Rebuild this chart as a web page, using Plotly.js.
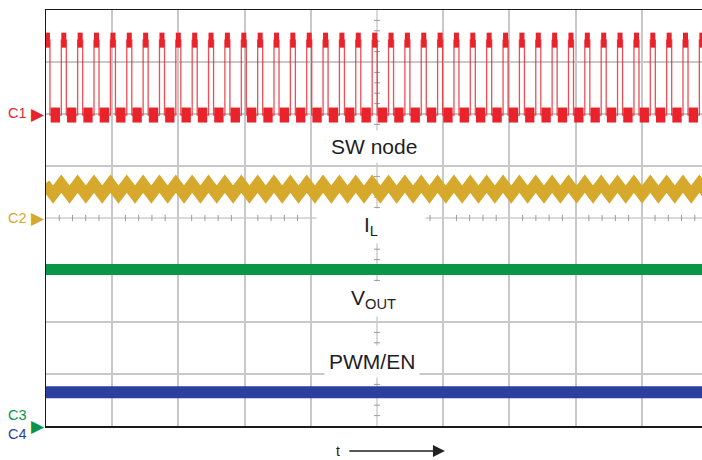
<!DOCTYPE html>
<html>
<head>
<meta charset="utf-8">
<script src="https://cdn.plot.ly/plotly-3.0.1.min.js"></script>
<style>
  html, body { margin: 0; padding: 0; background: #ffffff; }
  #chart { width: 702px; height: 460px; }
</style>
</head>
<body>
<div id="chart"></div>
<script>
// ---- values (x in divisions, y in divisions from bottom) ----
// SW node rising edges (divisions)
const swRise = [-0.016, 0.231, 0.478, 0.725, 0.973, 1.220, 1.467, 1.714, 1.961, 2.208,
                2.455, 2.702, 2.950, 3.197, 3.444, 3.691, 3.938, 4.185, 4.432, 4.679,
                4.927, 5.174, 5.421, 5.668, 5.915, 6.162, 6.409, 6.656, 6.904, 7.151,
                7.398, 7.645, 7.892, 8.139, 8.386, 8.633, 8.881, 9.128, 9.375, 9.622, 9.869];
// SW node falling edges (divisions)
const swFall = [0.060, 0.307, 0.554, 0.801, 1.049, 1.296, 1.543, 1.790, 2.037, 2.284,
                2.531, 2.778, 3.026, 3.273, 3.520, 3.767, 4.014, 4.261, 4.508, 4.755,
                5.003, 5.250, 5.497, 5.744, 5.991, 6.238, 6.485, 6.732, 6.980, 7.227,
                7.474, 7.721, 7.968, 8.215, 8.462, 8.709, 8.957, 9.204, 9.451, 9.698, 9.945];
const swHigh = 7.42;     // div
const swLow  = 5.98;     // div

// Inductor current: peak and valley instants (divisions) and levels
const ilPeakT   = [-0.016, 0.231, 0.478, 0.725, 0.973, 1.220, 1.467, 1.714, 1.961, 2.208,
                   2.455, 2.702, 2.950, 3.197, 3.444, 3.691, 3.938, 4.185, 4.432, 4.679,
                   4.927, 5.174, 5.421, 5.668, 5.915, 6.162, 6.409, 6.656, 6.904, 7.151,
                   7.398, 7.645, 7.892, 8.139, 8.386, 8.633, 8.881, 9.128, 9.375, 9.622, 9.869];
const ilValleyT = [0.107, 0.355, 0.602, 0.849, 1.096, 1.344, 1.591, 1.838, 2.085, 2.332,
                   2.579, 2.826, 3.073, 3.320, 3.568, 3.815, 4.062, 4.309, 4.556, 4.803,
                   5.050, 5.297, 5.545, 5.792, 6.039, 6.286, 6.533, 6.780, 7.027, 7.275,
                   7.522, 7.769, 8.016, 8.263, 8.510, 8.757, 9.004, 9.251, 9.498, 9.746, 9.993];
const ilPeak   = 4.66;
const ilValley = 4.45;

// VOUT and PWM/EN flat levels
const spanT     = [0, 9.95];
const voutLevel = [3.01, 3.01];
const pwmLevel  = [0.65, 0.65];

// labels
const traceLabels  = ['SW node', 'I<sub>L</sub>', 'V<sub>OUT</sub>', 'PWM/EN'];
const channelNames = ['C1', 'C2', 'C3', 'C4'];
const channelRef   = [6, 4, 0];          // reference-level markers (div)

// ---- build traces ----
const RED = '#e8232b', GOLD = '#d6a82b', GREEN = '#0b9548', BLUE = '#2c3f9f';
const FONT = '"Liberation Sans", Arial, Helvetica, sans-serif';

// thin SW square wave
const swX = [], swY = [];
for (let i = 0; i < swRise.length; i++) {
  swX.push(swRise[i], swRise[i], swFall[i], swFall[i]);
  swY.push(swLow, swHigh, swHigh, swLow);
}
// thick plateaus
const hiX = [], hiY = [], loX = [], loY = [];
for (let i = 0; i < swRise.length; i++) {
  hiX.push(swRise[i], swFall[i], null);
  hiY.push(swHigh, swHigh, null);
  const nextRise = i + 1 < swRise.length ? swRise[i + 1] : 10.2;
  loX.push(swFall[i] + 0.01, nextRise - 0.02, null);
  loY.push(swLow, swLow, null);
}
// IL triangle
const ilX = [], ilY = [];
for (let i = 0; i < ilPeakT.length; i++) {
  ilX.push(ilPeakT[i]); ilY.push(ilPeak);
  if (i < ilValleyT.length) { ilX.push(ilValleyT[i]); ilY.push(ilValley); }
}

const traces = [
  {x: swX, y: swY, mode: 'lines', line: {color: RED, width: 1.3}, opacity: 0.8, hoverinfo: 'skip'},
  {x: hiX, y: hiY, mode: 'lines', line: {color: RED, width: 15}, connectgaps: false, hoverinfo: 'skip'},
  {x: loX, y: loY, mode: 'lines', line: {color: RED, width: 15}, connectgaps: false, hoverinfo: 'skip'},
  {x: ilX, y: ilY, mode: 'lines', line: {color: GOLD, width: 11}, hoverinfo: 'skip'},
  {x: spanT, y: voutLevel, mode: 'lines', line: {color: GREEN, width: 11}, hoverinfo: 'skip'},
  {x: spanT, y: pwmLevel, mode: 'lines', line: {color: BLUE, width: 12}, hoverinfo: 'skip'}
];

// ---- centre graticule lines with minor ticks ----
const XMAX = 9.909;
const shapes = [];
const GC = '#9c9c9c';
shapes.push({type: 'line', xref: 'x', yref: 'y', x0: 0, x1: XMAX, y0: 4, y1: 4, line: {color: '#b5b5b5', width: 1}, layer: 'below'});
shapes.push({type: 'line', xref: 'x', yref: 'y', x0: 5, x1: 5, y0: 0, y1: 8, line: {color: '#b5b5b5', width: 1}, layer: 'below'});
for (let k = 1; k < 50; k++) {
  const xv = k * 0.2;
  if (xv > XMAX) break;
  shapes.push({type: 'line', xref: 'x', yref: 'y', x0: xv, x1: xv, y0: 4 - 0.06, y1: 4 + 0.06, line: {color: GC, width: 1}, layer: 'below'});
}
for (let k = 1; k < 40; k++) {
  const yv = k * 0.2;
  shapes.push({type: 'line', xref: 'x', yref: 'y', x0: 5 - 0.045, x1: 5 + 0.045, y0: yv, y1: yv, line: {color: GC, width: 1}, layer: 'below'});
}

// ---- annotations ----
const ann = [];
const labelPos = [[4.955, 5.37], [4.91, 3.85], [4.94, 2.45], [4.917, 1.25]];
const labelBoxW = [null, 100, null, null];
for (let i = 0; i < traceLabels.length; i++) {
  const a = {xref: 'x', yref: 'y', x: labelPos[i][0], y: labelPos[i][1], text: traceLabels[i],
             showarrow: false, font: {family: FONT, size: 21, color: '#1e1e1e'},
             bgcolor: '#ffffff', borderpad: 4};
  if (labelBoxW[i]) a.width = labelBoxW[i];
  ann.push(a);
}
const chColors = [RED, GOLD, GREEN, BLUE];
const chY = [0.752, 0.5, 0.0264, -0.0192];   // paper fractions of the plot height
for (let i = 0; i < channelNames.length; i++) {
  ann.push({xref: 'paper', yref: 'paper', x: -0.0265, y: chY[i], xanchor: 'right', yanchor: 'middle',
            text: channelNames[i], showarrow: false, font: {family: FONT, size: 14.5, color: chColors[i]}});
}
const arrowColors = [RED, GOLD, GREEN];
for (let i = 0; i < channelRef.length; i++) {
  ann.push({xref: 'paper', yref: 'y', x: 0.001, y: channelRef[i], xanchor: 'right', yanchor: 'middle',
            text: '\u25B6', showarrow: false,
            font: {family: '"DejaVu Sans", sans-serif', size: 17, color: arrowColors[i]}});
}
// time label
ann.push({xref: 'paper', yref: 'paper', x: 0.445, y: -0.0601, xanchor: 'center', yanchor: 'middle',
          text: 't', showarrow: false, height: 16, borderpad: 0,
          font: {family: FONT, size: 14, color: '#222'}});
// time arrow
ann.push({xref: 'paper', yref: 'paper', x: 0.608, y: -0.0601, ax: -97, ay: 0, text: '',
          showarrow: true, arrowhead: 2, arrowsize: 1.7, arrowwidth: 1.4, arrowcolor: '#222'});

const layout = {
  width: 702, height: 460,
  margin: {l: 46, r: 0, t: 10, b: 34},
  paper_bgcolor: '#ffffff', plot_bgcolor: '#ffffff',
  showlegend: false,
  xaxis: {range: [0, XMAX], tickvals: [1, 2, 3, 4, 6, 7, 8, 9], showticklabels: false, ticks: '',
          showgrid: true, gridcolor: '#c8c8c8', gridwidth: 2, zeroline: false,
          showline: true, mirror: true, linecolor: '#1a1a1a', linewidth: 1.5, fixedrange: true},
  yaxis: {range: [0, 8], tickvals: [1, 2, 3, 5, 6, 7], showticklabels: false, ticks: '',
          showgrid: true, gridcolor: '#c8c8c8', gridwidth: 2, zeroline: false,
          showline: true, mirror: false, linecolor: '#1a1a1a', linewidth: 1.5, fixedrange: true},
  shapes: shapes,
  annotations: ann
};

Plotly.newPlot('chart', traces, layout, {displayModeBar: false, staticPlot: true});
</script>
</body>
</html>
